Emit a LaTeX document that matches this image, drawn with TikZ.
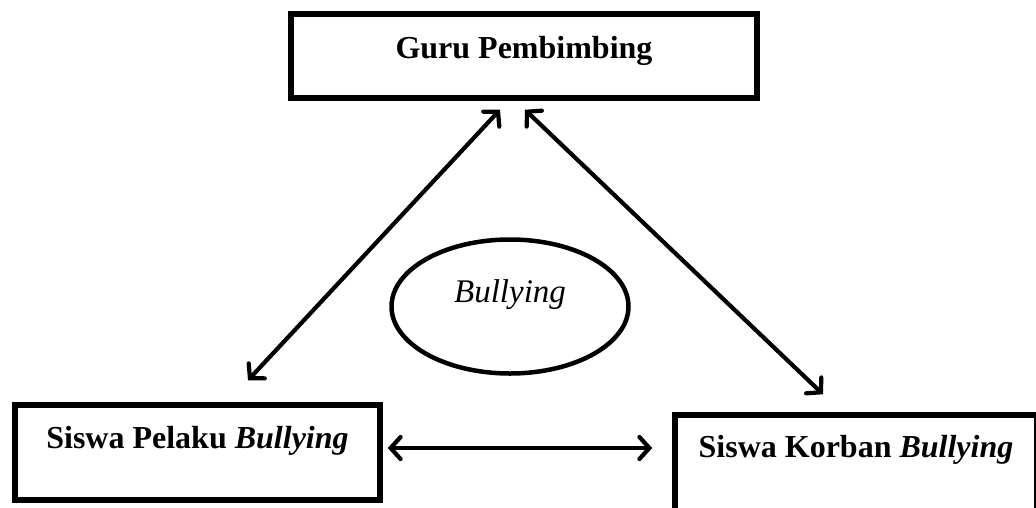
\documentclass[tikz,border=0pt]{standalone}
\usepackage{fontspec}
\setmainfont{Liberation Serif}
\usetikzlibrary{arrows.meta,shapes.geometric}

\tikzset{
  kotak/.style={draw, rectangle, line width=5.5pt, inner sep=0pt, anchor=base,
    font=\fontsize{32}{38}\selectfont\bfseries},
  relasi/.style={<->, >={Straight Barb[length=10pt,width=22pt,line cap=round]},
    line width=4.2pt}
}

\begin{document}
\begin{tikzpicture}[x=1pt,y=-1pt]

% Fix the size of the page
\useasboundingbox (0,0) rectangle (1036,507);

% Draw the three boxes
\node[kotak, minimum width=466pt, text height=44pt, text depth=40pt] (guru) at (524,58) {Guru Pembimbing};
\node[kotak, minimum width=365pt, text height=43pt, text depth=52pt] (pelaku) at (197.5,448) {Siswa Pelaku \textit{Bullying}};
\node[kotak, minimum width=362pt, text height=42pt, text depth=63pt] (korban) at (856,457) {Siswa Korban \textit{Bullying}};

% Draw the ellipse in the middle
\node[draw, ellipse, line width=4.5pt, inner sep=0pt, minimum width=237pt, minimum height=134pt,
  text height=20pt, text depth=29pt, font=\fontsize{33}{38}\selectfont\itshape] (bully) at (510,306.5) {Bullying};

% Mark the ends of the arrows
\coordinate (guruL) at ([xshift=-24pt,yshift=-9pt]guru.south);
\coordinate (guruR) at ([xshift=1pt,yshift=-9pt]guru.south);
\coordinate (pelakuT) at ([xshift=50.5pt,yshift=22pt]pelaku.north);
\coordinate (korbanT) at ([xshift=-33pt,yshift=18pt]korban.north);
\coordinate (pelakuR) at ([xshift=5pt]pelaku.base east);
\coordinate (korbanL) at ([xshift=-20pt,yshift=9pt]korban.base west);

% Draw the two-way arrows
\begin{scope}[relasi]
\draw (guruL) -- (pelakuT);
\draw (guruR) -- (korbanT);
\draw (pelakuR) -- (korbanL);
\end{scope}

\end{tikzpicture}
\end{document}
